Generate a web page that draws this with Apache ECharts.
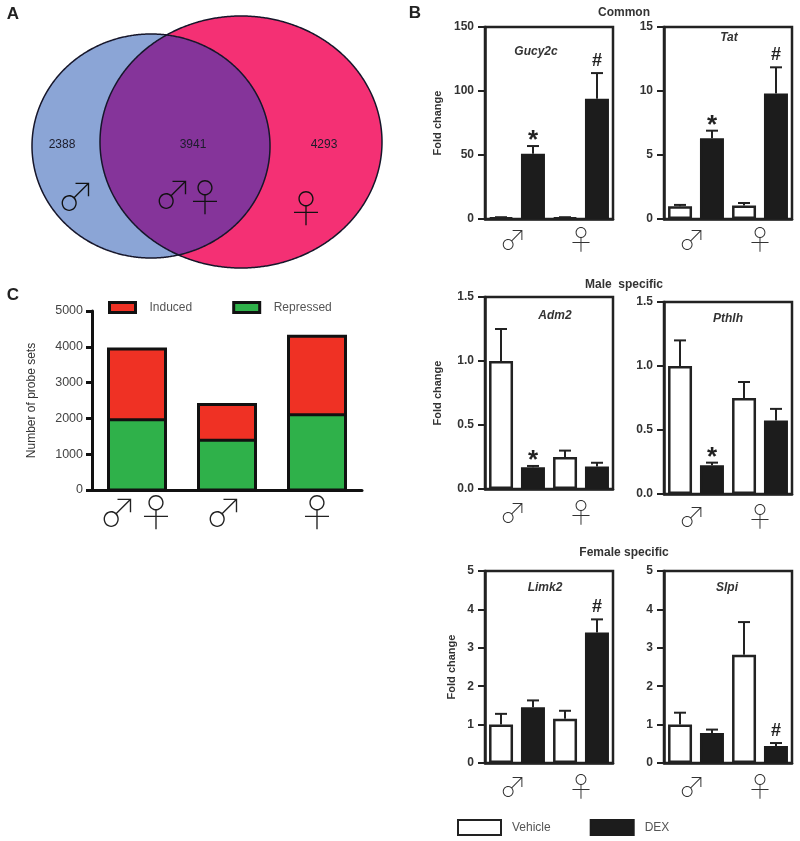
<!DOCTYPE html>
<html><head><meta charset="utf-8">
<style>html,body{margin:0;padding:0;background:#fff}#c{width:800px;height:841px}</style>
<script src="https://cdn.jsdelivr.net/npm/echarts@6/dist/echarts.min.js"></script>
</head><body><div id="c"></div>
<script>
// ---- data ----
const sexLabels = ['♂', '♀'];
const sections = ['Common', 'Male  specific', 'Female specific'];
const seriesNames = ['Vehicle', 'DEX'];
const geneNames = ['Gucy2c', 'Tat', 'Adm2', 'Pthlh', 'Limk2', 'Slpi'];
const gucy2cVehicle = [1, 1],       gucy2cDex = [51, 94];
const gucy2cVehicleTop = [1.4, 1.4], gucy2cDexTop = [57, 114];
const tatVehicle = [1.0, 1.05],     tatDex = [6.3, 9.8];
const tatVehicleTop = [1.1, 1.25],  tatDexTop = [6.9, 11.85];
const adm2Vehicle = [1.0, 0.25],    adm2Dex = [0.17, 0.175];
const adm2VehicleTop = [1.25, 0.30], adm2DexTop = [0.18, 0.205];
const pthlhVehicle = [1.0, 0.75],   pthlhDex = [0.225, 0.575];
const pthlhVehicleTop = [1.2, 0.875], pthlhDexTop = [0.245, 0.665];
const limk2Vehicle = [1.0, 1.15],   limk2Dex = [1.45, 3.4];
const limk2VehicleTop = [1.28, 1.36], limk2DexTop = [1.63, 3.74];
const slpiVehicle = [1.0, 2.82],    slpiDex = [0.78, 0.44];
const slpiVehicleTop = [1.31, 3.67], slpiDexTop = [0.87, 0.52];
const gucy2cMarks = ['*', '#'], tatMarks = ['*', '#'], adm2Marks = ['*', ''],
      pthlhMarks = ['*', ''],   limk2Marks = ['', '#'], slpiMarks = ['', '#'];
const axisMaxima = [150, 15, 1.5, 1.5, 5, 5];
const axisSteps = [50, 5, 0.5, 0.5, 1, 1];

const probeCategories = ['♂♀', '♂', '♀'];
const probeRepressed = [1960, 1390, 2100];
const probeInduced = [1981, 998, 2193];

const vennCounts = ['2388', '3941', '4293'];

// ---- layout ----
const panels = [
  {l:485, t:27,  vh:gucy2cVehicle, d:gucy2cDex, vt:gucy2cVehicleTop, dt:gucy2cDexTop, m:gucy2cMarks, yn:true,  gap:42, tx:536, ty:51, lm:7},
  {l:664, t:27,  vh:tatVehicle, d:tatDex, vt:tatVehicleTop, dt:tatDexTop, m:tatMarks, yn:false, tx:729, ty:37, lm:7},
  {l:485, t:297, vh:adm2Vehicle, d:adm2Dex, vt:adm2VehicleTop, dt:adm2DexTop, m:adm2Marks, yn:true, gap:42, tx:555, ty:315, lm:10},
  {l:664, t:302, vh:pthlhVehicle, d:pthlhDex, vt:pthlhVehicleTop, dt:pthlhDexTop, m:pthlhMarks, yn:false, tx:728, ty:318, lm:9},
  {l:485, t:571, vh:limk2Vehicle, d:limk2Dex, vt:limk2VehicleTop, dt:limk2DexTop, m:limk2Marks, yn:true, gap:28, tx:545, ty:587, lm:10},
  {l:664, t:571, vh:slpiVehicle, d:slpiDex, vt:slpiVehicleTop, dt:slpiDexTop, m:slpiMarks, yn:false, tx:727, ty:587, lm:10}
];
const ink = '#222';
const sansFont = '"Liberation Sans", Arial, sans-serif';
const glyphFont = '"Noto Sans CJK JP", "DejaVu Sans", sans-serif';

const grid = [], xAxis = [], yAxis = [], series = [], title = [];

function errorRender(params, api) {
  const band = api.size([1, 0])[0];
  const dx = api.value(3) * band / 4;
  const a = api.coord([api.value(0), api.value(1)]);
  const b = api.coord([api.value(0), api.value(2)]);
  const x = a[0] + dx;
  const st = {stroke: ink, lineWidth: 2, fill: null};
  const kids = [
    {type: 'line', shape: {x1: x, y1: a[1], x2: x, y2: b[1]}, style: st},
    {type: 'line', shape: {x1: x - 6, y1: b[1], x2: x + 6, y2: b[1]}, style: st}
  ];
  const mark = api.value(4);
  if (mark) {
    const star = mark === '*';
    kids.push({type: 'text', style: {
      text: mark, x: x, y: b[1] + (star ? 8 : -3),
      align: 'center', verticalAlign: 'bottom',
      font: (star ? 'bold 26px ' : 'bold 18px ') + sansFont, fill: ink
    }});
  }
  return {type: 'group', children: kids};
}

panels.forEach(function (p, i) {
  grid.push({left: p.l, top: p.t, width: 128, height: 192, show: true,
    borderColor: ink, borderWidth: 2.5, backgroundColor: 'transparent'});
  xAxis.push({gridIndex: i, type: 'category',
    data: [{value: sexLabels[0], textStyle: {padding: [0, 8, 0, 0]}}, sexLabels[1]],
    axisLine: {lineStyle: {color: ink, width: 2.5}}, axisTick: {show: false},
    axisLabel: {fontFamily: glyphFont, fontWeight: 100, fontSize: 27, color: '#333', margin: p.lm, interval: 0}});
  yAxis.push({gridIndex: i, type: 'value', min: 0, max: axisMaxima[i], interval: axisSteps[i],
    splitLine: {show: false},
    axisLine: {show: true, lineStyle: {color: ink, width: 2.5}},
    axisTick: {show: true, length: 7, lineStyle: {color: ink, width: 2}},
    axisLabel: {fontFamily: sansFont, fontWeight: 'bold', fontSize: 12, color: '#333', margin: 11,
      formatter: function (v) { return axisSteps[i] < 1 ? v.toFixed(1) : String(v); }},
    name: p.yn ? 'Fold change' : '', nameLocation: 'middle', nameRotate: 90, nameGap: p.gap || 0,
    nameMoveOverlap: false,
    nameTextStyle: {fontFamily: sansFont, fontWeight: 'bold', fontSize: 11, color: '#333'}});
  series.push({name: seriesNames[0], type: 'bar', xAxisIndex: i, yAxisIndex: i, data: p.vh,
    barWidth: 24, barGap: '33%', itemStyle: {color: '#fff', borderColor: ink, borderWidth: 2.5}});
  series.push({name: seriesNames[1], type: 'bar', xAxisIndex: i, yAxisIndex: i, data: p.d,
    barWidth: 24, barGap: '33%', itemStyle: {color: '#1c1c1c', borderColor: '#1c1c1c', borderWidth: 2.5}});
  const errData = [];
  sexLabels.forEach(function (s, k) {
    errData.push([k, p.vh[k], p.vt[k], -1, '']);
    errData.push([k, p.d[k], p.dt[k], 1, p.m[k]]);
  });
  series.push({type: 'custom', xAxisIndex: i, yAxisIndex: i, renderItem: errorRender, data: errData,
    clip: false, z: 5, encode: {x: 0, y: [1, 2]}, silent: true});
  title.push({text: geneNames[i], left: p.tx, top: p.ty - 5, textAlign: 'center', padding: 0,
    textStyle: {fontFamily: sansFont, fontStyle: 'italic', fontWeight: 'bold', fontSize: 12, color: '#333'}});
});

// panel C
const cIndex = panels.length;
const stackInner = 57;
grid.push({left: 92, top: 311, width: 270, height: 179});
xAxis.push({gridIndex: cIndex, type: 'category',
  data: [probeCategories[0], {value: probeCategories[1], textStyle: {padding: [0, 6, 0, 0]}}, probeCategories[2]],
  axisLine: {lineStyle: {color: '#111', width: 3}}, axisTick: {show: false},
  axisLabel: {fontFamily: glyphFont, fontWeight: 100, fontSize: 38, color: '#222', margin: 3, interval: 0}});
yAxis.push({gridIndex: cIndex, type: 'value', min: 0, max: 5000, interval: 1000, splitLine: {show: false},
  axisLine: {show: true, lineStyle: {color: '#111', width: 3}},
  axisTick: {show: true, length: 6, lineStyle: {color: '#111', width: 3}},
  axisLabel: {fontFamily: sansFont, fontSize: 12.5, color: '#444', margin: 9,
    formatter: function (v) { return String(v); }},
  name: 'Number of probe sets', nameLocation: 'middle', nameRotate: 90, nameGap: 54, nameMoveOverlap: false,
  nameTextStyle: {fontFamily: sansFont, fontSize: 12, color: '#333'}});
series.push({name: 'Repressed', type: 'bar', stack: 'c', xAxisIndex: cIndex, yAxisIndex: cIndex, data: probeRepressed,
  barWidth: stackInner, itemStyle: {color: '#2fb14a'}});
series.push({name: 'Induced', type: 'bar', stack: 'c', xAxisIndex: cIndex, yAxisIndex: cIndex, data: probeInduced,
  barWidth: stackInner, itemStyle: {color: '#ef3124'}});
series.push({type: 'custom', xAxisIndex: cIndex, yAxisIndex: cIndex, silent: true, z: 5, clip: false,
  data: probeRepressed.map(function (r, k) { return [k, r, r + probeInduced[k]]; }),
  encode: {x: 0, y: [1, 2]},
  renderItem: function (params, api) {
    const base = api.coord([api.value(0), 0]);
    const mid = api.coord([api.value(0), api.value(1)]);
    const top = api.coord([api.value(0), api.value(2)]);
    const st = {stroke: '#111', lineWidth: 3, fill: null};
    return {type: 'group', children: [
      {type: 'rect', shape: {x: base[0] - stackInner / 2, y: top[1], width: stackInner, height: base[1] - top[1]}, style: st},
      {type: 'line', shape: {x1: base[0] - stackInner / 2, y1: mid[1], x2: base[0] + stackInner / 2, y2: mid[1]}, style: st}
    ]};
  }});

// section titles
[[sections[0], 12], [sections[1], 284], [sections[2], 552]].forEach(function (s) {
  title.push({text: s[0], left: 624, top: s[1] - 5, textAlign: 'center', padding: 0,
    textStyle: {fontFamily: sansFont, fontWeight: 'bold', fontSize: 12, color: '#333'}});
});

// venn
function ellipsePts(cx, cy, rx, ry) {
  const pts = [];
  for (let a = 0; a < 720; a++) {
    const t = a * Math.PI / 360;
    pts.push([cx + rx * Math.cos(t), cy + ry * Math.sin(t)]);
  }
  return pts;
}
const maleE = [151, 146, 119, 112], femaleE = [241, 142, 141, 126];
function inside(pt, e) {
  const u = (pt[0] - e[0]) / e[2], v = (pt[1] - e[1]) / e[3];
  return u * u + v * v <= 1;
}
const malePts = ellipsePts.apply(null, maleE), femalePts = ellipsePts.apply(null, femaleE);
const lens = malePts.filter(function (q) { return inside(q, femaleE); })
  .concat(femalePts.filter(function (q) { return inside(q, maleE); }));
const lc = [185, 145];
lens.sort(function (a, b) {
  return Math.atan2(a[1] - lc[1], a[0] - lc[0]) - Math.atan2(b[1] - lc[1], b[0] - lc[0]);
});
function vennText(t, x, y) {
  return {type: 'text', x: x, y: y, z: 10, style: {text: t, align: 'center', verticalAlign: 'middle',
    font: '12px ' + sansFont, fill: '#1b1b2a'}};
}
function vennGlyph(t, x, y) {
  return {type: 'text', x: x, y: y, z: 10, style: {text: t, align: 'center', verticalAlign: 'middle',
    font: '100 38px ' + glyphFont, fill: '#111'}};
}
function panelLetter(t, x, y) {
  return {type: 'text', x: x, y: y, z: 10, style: {text: t, align: 'center', verticalAlign: 'middle',
    font: 'bold 17px ' + sansFont, fill: '#222'}};
}
const graphic = [
  {type: 'polygon', z: 1, shape: {points: femalePts}, style: {fill: '#f43074'}},
  {type: 'polygon', z: 2, shape: {points: malePts}, style: {fill: '#8ba5d6'}},
  {type: 'polygon', z: 3, shape: {points: lens}, style: {fill: '#85349a'}},
  {type: 'polygon', z: 4, shape: {points: femalePts}, style: {fill: 'none', stroke: '#16162a', lineWidth: 1.5}},
  {type: 'polygon', z: 4, shape: {points: malePts}, style: {fill: 'none', stroke: '#16162a', lineWidth: 1.5}},
  vennText(vennCounts[0], 62, 145),
  vennText(vennCounts[1], 193, 145),
  vennText(vennCounts[2], 324, 145),
  vennGlyph('♂', 76, 196), vennGlyph('♂', 173, 194), vennGlyph('♀', 205, 197), vennGlyph('♀', 306, 208),
  panelLetter('A', 13, 14), panelLetter('B', 415, 13), panelLetter('C', 13, 295)
];

const option = {
  animation: false,
  backgroundColor: '#fff',
  grid: grid, xAxis: xAxis, yAxis: yAxis, series: series, title: title, graphic: graphic,
  legend: [
    {data: ['Induced', 'Repressed'], left: 108, top: 301, itemWidth: 26, itemHeight: 10, itemGap: 40,
      selectedMode: false, icon: 'rect', padding: 0,
      itemStyle: {borderColor: '#111', borderWidth: 3},
      textStyle: {fontFamily: sansFont, fontSize: 12, color: '#555', padding: [0, 0, 0, 9]}},
    {data: seriesNames, left: 457, top: 819, itemWidth: 43, itemHeight: 15, itemGap: 39,
      selectedMode: false, icon: 'rect', padding: 0,
      textStyle: {fontFamily: sansFont, fontSize: 12, color: '#555', padding: [0, 0, 0, 6]}}
  ]
};
echarts.init(document.getElementById('c'), null, {renderer: 'canvas'}).setOption(option);
</script></body></html>
